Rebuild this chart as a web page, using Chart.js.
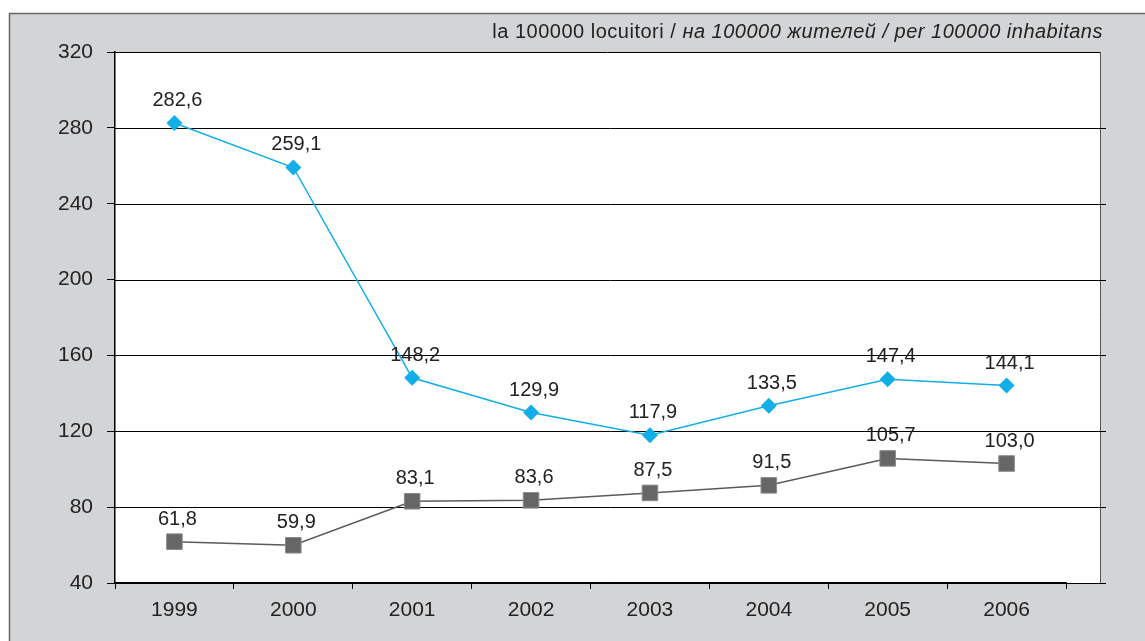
<!DOCTYPE html>
<html>
<head>
<meta charset="utf-8">
<script src="https://cdn.jsdelivr.net/npm/chart.js@4/dist/chart.umd.min.js"></script>
<style>
  html, body { margin: 0; padding: 0; background: #fff; }
  #wrap { position: relative; width: 1145px; height: 641px; overflow: hidden; }
  #title {
    position: absolute; right: 42px; top: 20px; line-height: 23px;
    font-family: "Liberation Sans", Arial, sans-serif; font-size: 20px; color: #222;
    letter-spacing: 0.5px; white-space: nowrap;
  }
</style>
</head>
<body>
<div id="wrap">
  <canvas id="myChart" width="1145" height="641"></canvas>
  <div id="title">la 100000 locuitori / <i>на 100000 жителей / per 100000 inhabitans</i></div>
</div>
<script>
var years = ['1999', '2000', '2001', '2002', '2003', '2004', '2005', '2006'];
var blueValues = [282.6, 259.1, 148.2, 129.9, 117.9, 133.5, 147.4, 144.1];
var grayValues = [61.8, 59.9, 83.1, 83.6, 87.5, 91.5, 105.7, 103.0];
var yTicks = [40, 80, 120, 160, 200, 240, 280, 320];

var FONT = '"Liberation Sans", Arial, sans-serif';
var BOX_RIGHT = 1100;   // white plot box goes a bit past the x axis
var GRID_RIGHT = 1106;

// gray panel, white plot box and horizontal grid lines
var backgroundPlugin = {
    id: 'panel',
    beforeDraw: function (chart) {
        var ctx = chart.ctx;
        var a = chart.chartArea;
        ctx.save();
        ctx.fillStyle = '#ffffff';
        ctx.fillRect(0, 0, chart.width, chart.height);
        ctx.fillStyle = '#d3d4d6';
        ctx.fillRect(9, 13, chart.width, chart.height);
        ctx.strokeStyle = '#666';
        ctx.lineWidth = 1.5;
        ctx.beginPath();
        ctx.moveTo(9.5, chart.height);
        ctx.lineTo(9.5, 13.5);
        ctx.lineTo(chart.width, 13.5);
        ctx.stroke();

        ctx.fillStyle = '#ffffff';
        ctx.fillRect(a.left, a.top, BOX_RIGHT - a.left, a.bottom - a.top);
        ctx.strokeStyle = '#555';
        ctx.lineWidth = 1;
        ctx.beginPath();
        ctx.moveTo(BOX_RIGHT + 0.5, a.top);
        ctx.lineTo(BOX_RIGHT + 0.5, a.bottom);
        ctx.stroke();

        var y = chart.scales.y;
        ctx.strokeStyle = '#000';
        y.ticks.forEach(function (t) {
            var py = Math.round(y.getPixelForValue(t.value)) + 0.5;
            ctx.beginPath();
            ctx.moveTo(a.left, py);
            ctx.lineTo(t.value === yTicks[yTicks.length - 1] ? BOX_RIGHT : GRID_RIGHT, py);
            ctx.stroke();
        });
        ctx.restore();
    }
};

// value labels above the points
var labelPlugin = {
    id: 'valueLabels',
    afterDatasetsDraw: function (chart) {
        var ctx = chart.ctx;
        ctx.save();
        ctx.font = '20px ' + FONT;
        ctx.fillStyle = '#222';
        ctx.textAlign = 'center';
        ctx.textBaseline = 'alphabetic';
        chart.data.datasets.forEach(function (ds, i) {
            var meta = chart.getDatasetMeta(i);
            meta.data.forEach(function (pt, j) {
                var txt = ds.data[j].toFixed(1).replace('.', ',');
                ctx.fillText(txt, pt.x + 3, pt.y - 17);
            });
        });
        ctx.restore();
    }
};

var ctx = document.getElementById('myChart').getContext('2d');
var myChart = new Chart(ctx, {
    type: 'line',
    data: {
        labels: years,
        datasets: [{
            data: blueValues,
            borderColor: '#12aee8',
            backgroundColor: '#12aee8',
            borderWidth: 1.5,
            pointStyle: 'rectRot',
            pointRadius: 8,
            pointBorderWidth: 0,
            tension: 0
        }, {
            data: grayValues,
            borderColor: '#5a5a5a',
            backgroundColor: '#666666',
            borderWidth: 1.5,
            pointStyle: 'rect',
            pointRadius: 11,
            pointBorderColor: '#8a8a8a',
            pointBorderWidth: 1,
            tension: 0
        }]
    },
    options: {
        responsive: false,
        animation: false,
        layout: { padding: { left: 0, top: 52, right: 79, bottom: 0 } },
        plugins: { legend: { display: false }, tooltip: { enabled: false } },
        scales: {
            x: {
                offset: true,
                grid: { offset: true, drawOnChartArea: false, color: '#000', tickLength: 6 },
                border: { color: '#000', width: 1.5 },
                ticks: { color: '#222', padding: 9, font: { family: FONT, size: 21 } },
                afterFit: function (scale) { scale.height = 58; }
            },
            y: {
                min: yTicks[0],
                max: yTicks[yTicks.length - 1],
                afterBuildTicks: function (scale) {
                    scale.ticks = yTicks.map(function (v) { return { value: v }; });
                },
                grid: { drawOnChartArea: false, color: '#000', lineWidth: 1, tickLength: 8 },
                border: { color: '#000', width: 1.5 },
                ticks: { color: '#222', padding: 14, font: { family: FONT, size: 21 } },
                afterFit: function (scale) { scale.width = 115; }
            }
        }
    },
    plugins: [backgroundPlugin, labelPlugin]
});
</script>
</body>
</html>
